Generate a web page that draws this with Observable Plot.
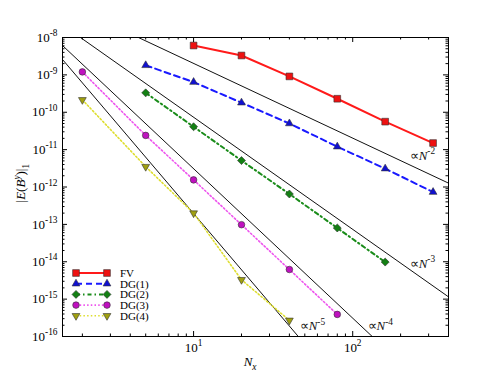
<!DOCTYPE html>
<html>
<head>
<meta charset="utf-8">
<script src="https://cdn.jsdelivr.net/npm/d3@7"></script>
<script src="https://cdn.jsdelivr.net/npm/@observablehq/plot@0.6"></script>
<style>
  body { margin: 0; background: #fff; }
  #chart { position: relative; width: 498px; height: 374px; }
</style>
</head>
<body>
<div id="chart"></div>
<script>
// ---- data ----
const seriesNames = ["FV", "DG(1)", "DG(2)", "DG(3)", "DG(4)"];
const fvX = [10, 20, 40, 80, 160, 320];
const fvY = [6.1e-9, 3.3e-9, 9.1e-10, 2.3e-10, 5.6e-11, 1.5e-11];
const dg1X = [5, 10, 20, 40, 80, 160, 320];
const dg1Y = [1.8e-9, 6.4e-10, 1.8e-10, 5.0e-11, 1.2e-11, 3.1e-12, 7.3e-13];
const dg2X = [5, 10, 20, 40, 80, 160];
const dg2Y = [3.3e-10, 4.1e-11, 5.1e-12, 6.5e-13, 8.0e-14, 9.8e-15];
const dg3X = [2, 5, 10, 20, 40, 80];
const dg3Y = [1.2e-9, 2.4e-11, 1.55e-12, 9.8e-14, 6.2e-15, 3.9e-16];
const dg4X = [2, 5, 10, 20, 40];
const dg4Y = [2.15e-10, 3.5e-12, 2.0e-13, 3.3e-15, 2.7e-16];

// reference slope lines (end points)
const refX = [1.5, 400];
const refN2 = [9.0e-8, 1.27e-12];
const refN3 = [2.18e-8, 1.15e-15];
const refN4 = [6.1e-9, 1.21e-18];
const refN5 = [2.58e-9, 1.9e-21];
const refLabels = ["∝N^{-2}", "∝N^{-3}", "∝N^{-4}", "∝N^{-5}"];
const refLabelX = [228, 228, 124, 46.4];
const refLabelY = [7.0e-12, 9.06e-15, 1.88e-16, 1.88e-16];

// ticks
const xMajor = [10, 100];
const xTickLabels = ["10^{1}", "10^{2}"];
const xMinor = [2, 3, 4, 5, 6, 7, 8, 9, 20, 30, 40, 50, 60, 70, 80, 90, 200, 300];
const yExponents = [-16, -15, -14, -13, -12, -11, -10, -9, -8];
const yMajor = yExponents.map(e => Math.pow(10, e));
const yTickLabels = ["10^{-16}", "10^{-15}", "10^{-14}", "10^{-13}", "10^{-12}", "10^{-11}", "10^{-10}", "10^{-9}", "10^{-8}"];
const minorMult = [2, 3, 4, 5, 6, 7, 8, 9];
const yMinor = yExponents.slice(0, -1).flatMap(e => minorMult.map(m => m * Math.pow(10, e)));

// ---- styles ----
const styles = [
  {color: "#ff1a1a", fill: "#ee1111", dash: null, width: 2, symbol: "square", r: 3.8, rotate: 0},
  {color: "#1a1aff", fill: "#1010d0", dash: "6,4", width: 2, symbol: "triangle", r: 2.9, rotate: 0},
  {color: "#1a8c1a", fill: "#138013", dash: "4,3,1.5,3", width: 2, symbol: "diamond2", r: 3.6, rotate: 0},
  {color: "#ee55ee", fill: "#c010c0", dash: "1.5,2.2", width: 1.6, symbol: "circle", r: 3.3, rotate: 0},
  {color: "#dede30", fill: "#a0a010", dash: "1.5,2.2", width: 1.6, symbol: "triangle", r: 2.9, rotate: 180}
];
const xs = [fvX, dg1X, dg2X, dg3X, dg4X];
const ys = [fvY, dg1Y, dg2Y, dg3Y, dg4Y];
const series = seriesNames.map((name, i) => xs[i].map((x, j) => ({name, x, y: ys[i][j]})));
const refs = [refN2, refN3, refN4, refN5].map(arr => refX.map((x, j) => ({x, y: arr[j]})));

const W = 498, H = 374, mL = 62, mR = 50, mT = 37, mB = 38;
const fw = W - mL - mR, fh = H - mT - mB;
const font = "'Liberation Serif', 'Times New Roman', serif";

const marks = [];
for (const r of refs) marks.push(Plot.line(r, {x: "x", y: "y", stroke: "#111", strokeWidth: 1, clip: true}));
series.forEach((s, i) => {
  const st = styles[i];
  marks.push(Plot.line(s, {x: "x", y: "y", stroke: st.color, strokeWidth: st.width, strokeDasharray: st.dash}));
});
series.forEach((s, i) => {
  const st = styles[i];
  marks.push(Plot.dot(s, {x: "x", y: "y", symbol: st.symbol, r: st.r, rotate: st.rotate, fill: st.fill, stroke: "#333", strokeWidth: 0.6}));
});
marks.push(Plot.text(refLabels.map((t, i) => ({t, x: refLabelX[i], y: refLabelY[i]})),
  {x: "x", y: "y", text: "t", textAnchor: "start", lineAnchor: "middle", fontSize: 13, fill: "#111"}));
// inward ticks
marks.push(Plot.tickX(xMajor, {x: d => d, insetTop: fh - 5, stroke: "#000"}));
marks.push(Plot.tickX(xMajor, {x: d => d, insetBottom: fh - 5, stroke: "#000"}));
marks.push(Plot.tickX(xMinor, {x: d => d, insetTop: fh - 2.5, stroke: "#000"}));
marks.push(Plot.tickX(xMinor, {x: d => d, insetBottom: fh - 2.5, stroke: "#000"}));
marks.push(Plot.tickY(yMajor, {y: d => d, insetRight: fw - 5, stroke: "#000"}));
marks.push(Plot.tickY(yMajor, {y: d => d, insetLeft: fw - 5, stroke: "#000"}));
marks.push(Plot.tickY(yMinor, {y: d => d, insetRight: fw - 2.5, stroke: "#000"}));
marks.push(Plot.tickY(yMinor, {y: d => d, insetLeft: fw - 2.5, stroke: "#000"}));
// axis tick labels
marks.push(Plot.axisX(xMajor, {tickSize: 0, tickPadding: 6, fontSize: 13, tickFormat: d => xTickLabels[xMajor.indexOf(d)], label: null}));
marks.push(Plot.axisY(yMajor, {tickSize: 0, tickPadding: 5, fontSize: 13, tickFormat: d => yTickLabels[yMajor.indexOf(d)], label: null}));
// axis titles
marks.push(Plot.text(["|E(B^{y})|_{1}"], {frameAnchor: "left", text: d => d, rotate: -90, dx: -42, textAnchor: "middle", fontSize: 13, fill: "#000", ariaLabel: "ylabel"}));
marks.push(Plot.text(["N_{x}"], {frameAnchor: "bottom", text: d => d, dy: 25, textAnchor: "middle", fontSize: 13, fill: "#000", ariaLabel: "xlabel"}));
marks.push(Plot.frame({stroke: "#000", strokeWidth: 1}));

const plot = Plot.plot({
  width: W, height: H,
  marginLeft: mL, marginRight: mR, marginTop: mT, marginBottom: mB,
  style: {fontFamily: font, fontSize: "13px", background: "#fff", color: "#000"},
  x: {type: "log", domain: [1.5, 400], axis: null},
  y: {type: "log", domain: [1e-16, 1e-8], axis: null},
  marks
});
document.getElementById("chart").appendChild(plot);

// ---- superscript / subscript markup ----
function parseMarkup(s) {
  const out = []; const re = /([\^_])\{([^}]*)\}/g; let last = 0, m;
  while ((m = re.exec(s))) {
    if (m.index > last) out.push({t: s.slice(last, m.index), k: "n"});
    out.push({t: m[2], k: m[1] === "^" ? "sup" : "sub"});
    last = re.lastIndex;
  }
  if (last < s.length) out.push({t: s.slice(last), k: "n"});
  return out;
}
function applyMarkup(el) {
  const s = el.textContent;
  if (!/[\^_]\{/.test(s)) return;
  const italic = /[A-Za-z]/.test(s);
  const F = parseFloat(getComputedStyle(el).fontSize) || 13;
  while (el.firstChild) el.removeChild(el.firstChild);
  let shift = 0;
  for (const seg of parseMarkup(s)) {
    const target = seg.k === "sup" ? -0.42 * F : seg.k === "sub" ? 0.3 * F : 0;
    const size = seg.k === "n" ? F : 0.72 * F;
    const parts = italic ? seg.t.match(/[A-Za-z]+|[^A-Za-z]+/g) : [seg.t];
    let first = true;
    for (const p of parts) {
      const ts = d3.select(el).append("tspan").text(p).attr("font-size", size);
      if (first) { if (target - shift !== 0) ts.attr("dy", target - shift); shift = target; first = false; }
      if (italic && /[A-Za-z]/.test(p)) ts.attr("font-style", "italic");
    }
  }
}
d3.select(plot).selectAll("text").each(function() { applyMarkup(this); });

// place axis titles by their rendered box centre
function centerAt(el, cx, cy) {
  const sb = plot.getBoundingClientRect();
  const b = el.getBoundingClientRect();
  const dx = cx - (b.left - sb.left + b.width / 2);
  const dy = cy - (b.top - sb.top + b.height / 2);
  const t = el.getAttribute("transform") || "";
  el.setAttribute("transform", `translate(${dx},${dy}) ${t}`);
}
d3.select(plot).selectAll("text").each(function() {
  const s = this.textContent;
  if (s.startsWith("|E(")) centerAt(this, 21.5, 183);
  else if (s === "Nx") centerAt(this, 250, 363);
});

// ---- legend (inside plot, lower left) ----
const symMap = {square: d3.symbolSquare, triangle: d3.symbolTriangle, diamond2: d3.symbolDiamond2, circle: d3.symbolCircle};
const svg = d3.select(plot);
const lg = svg.append("g").attr("font-family", font).attr("font-size", 11).attr("text-anchor", "start");
const lx0 = 76, lx1 = 107, ltx = 120, ly0 = 273, ldy = 10.7;
seriesNames.forEach((name, i) => {
  const st = styles[i];
  const y = ly0 + i * ldy;
  lg.append("line").attr("x1", lx0).attr("x2", lx1).attr("y1", y).attr("y2", y)
    .attr("stroke", st.color).attr("stroke-width", st.width).attr("stroke-dasharray", st.dash);
  for (const x of [lx0, lx1]) {
    lg.append("path").attr("d", d3.symbol(symMap[st.symbol], Math.PI * st.r * st.r)())
      .attr("transform", `translate(${x},${y}) rotate(${st.rotate})`)
      .attr("fill", st.fill).attr("stroke", "#333").attr("stroke-width", 0.6);
  }
  lg.append("text").attr("x", ltx).attr("y", y).attr("dy", "0.35em").attr("fill", "#000").text(name);
});
</script>
</body>
</html>
